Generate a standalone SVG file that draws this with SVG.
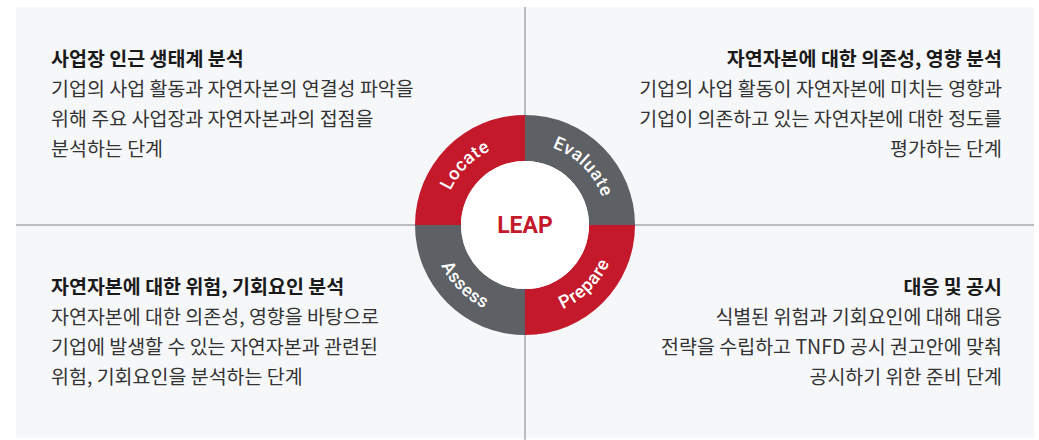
<svg xmlns="http://www.w3.org/2000/svg" width="1039" height="440" viewBox="0 0 1039 440">
<style>
.title{font-family:"Noto Sans CJK KR","Noto Sans",sans-serif;font-size:19.5px;font-weight:700;fill:#1a1a1a}
.body{font-family:"Noto Sans CJK KR","Noto Sans",sans-serif;font-size:19.5px;font-weight:400;fill:#333333}
.end{text-anchor:end}
.ring{font-family:Roboto,"Liberation Sans",sans-serif;font-size:18px;font-weight:500;fill:#ffffff;letter-spacing:0.6px}
.red{fill:#C4192B}
.gray{fill:#5D6064}
.div{stroke:#A5A7AA;stroke-width:1.5;fill:none}
</style>
<defs>
<path id="arcTL" d="M443,225 A82,82 0 0 1 525,143"/>
<path id="arcTR" d="M525,143 A82,82 0 0 1 607,225"/>
<path id="arcBR" d="M525,317 A93,93 0 0 0 618,225"/>
<path id="arcBL" d="M432,225 A93,93 0 0 0 525,318"/>
</defs>
<rect x="0" y="0" width="1039" height="440" fill="#ffffff"/>
<rect x="16" y="7" width="1018" height="431" fill="#F6F7F9"/>
<g id="dividers">
<line class="div" x1="525" y1="7" x2="525" y2="440"/>
<line class="div" x1="16" y1="225" x2="1034" y2="225"/>
</g>
<g id="locate">
<path class="red" d="M415,225 A110,110 0 0 1 525,115 L525,161 A64,64 0 0 0 461,225 Z"/>
<text class="ring"><textPath href="#arcTL" startOffset="50%" text-anchor="middle">Locate</textPath></text>
</g>
<g id="evaluate">
<path class="gray" d="M525,115 A110,110 0 0 1 635,225 L589,225 A64,64 0 0 0 525,161 Z"/>
<text class="ring"><textPath href="#arcTR" startOffset="50%" text-anchor="middle">Evaluate</textPath></text>
</g>
<g id="prepare">
<path class="red" d="M635,225 A110,110 0 0 1 525,335 L525,289 A64,64 0 0 0 589,225 Z"/>
<text class="ring"><textPath href="#arcBR" startOffset="50%" text-anchor="middle">Prepare</textPath></text>
</g>
<g id="assess">
<path class="gray" d="M525,335 A110,110 0 0 1 415,225 L461,225 A64,64 0 0 0 525,289 Z"/>
<text class="ring"><textPath href="#arcBL" startOffset="50%" text-anchor="middle">Assess</textPath></text>
</g>
<g id="leap">
<circle cx="525" cy="225" r="64" fill="#ffffff"/>
<text x="525" y="233" text-anchor="middle" font-family="Roboto,'Liberation Sans',sans-serif" font-size="23" font-weight="700" fill="#C4192B">LEAP</text>
</g>
<g id="q-locate">
<text class="title" x="51" y="66">사업장 인근 생태계 분석</text>
<text class="body" x="51" y="96">기업의 사업 활동과 자연자본의 연결성 파악을</text>
<text class="body" x="51" y="126">위해 주요 사업장과 자연자본과의 접점을</text>
<text class="body" x="51" y="156">분석하는 단계</text>
</g>
<g id="q-evaluate">
<text class="title end" x="1002" y="66">자연자본에 대한 의존성, 영향 분석</text>
<text class="body end" x="1002" y="96">기업의 사업 활동이 자연자본에 미치는 영향과</text>
<text class="body end" x="1002" y="126">기업이 의존하고 있는 자연자본에 대한 정도를</text>
<text class="body end" x="1002" y="156">평가하는 단계</text>
</g>
<g id="q-assess">
<text class="title" x="51" y="294">자연자본에 대한 위험, 기회요인 분석</text>
<text class="body" x="51" y="324">자연자본에 대한 의존성, 영향을 바탕으로</text>
<text class="body" x="51" y="354">기업에 발생할 수 있는 자연자본과 관련된</text>
<text class="body" x="51" y="384">위험, 기회요인을 분석하는 단계</text>
</g>
<g id="q-prepare">
<text class="title end" x="1002" y="294">대응 및 공시</text>
<text class="body end" x="1002" y="324">식별된 위험과 기회요인에 대해 대응</text>
<text class="body end" x="1002" y="354">전략을 수립하고 TNFD 공시 권고안에 맞춰</text>
<text class="body end" x="1002" y="384">공시하기 위한 준비 단계</text>
</g>
</svg>
